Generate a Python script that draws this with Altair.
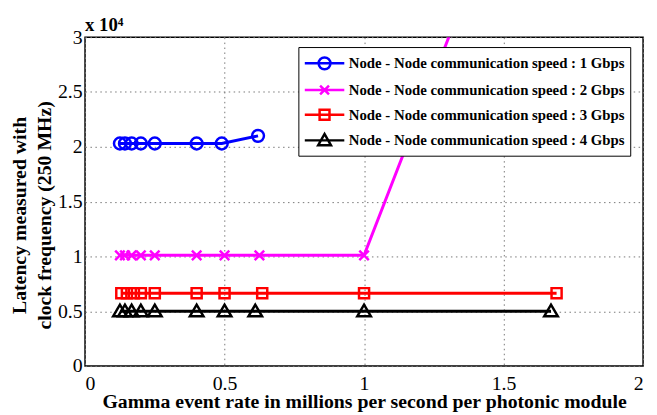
import altair as alt
import pandas as pd

series = [
    "Node - Node communication speed : 1 Gbps",
    "Node - Node communication speed : 2 Gbps",
    "Node - Node communication speed : 3 Gbps",
    "Node - Node communication speed : 4 Gbps",
]
colors = ["#0000ff", "#ff00ff", "#ff0000", "#000000"]

x_1g = [0.125, 0.143, 0.167, 0.2, 0.25, 0.4, 0.49, 0.62]
y_1g = [20300, 20300, 20300, 20300, 20300, 20300, 20300, 21000]
x_2g = [0.125, 0.143, 0.167, 0.2, 0.25, 0.4, 0.5, 0.625, 1.0, 1.67]
y_2g = [10100, 10100, 10100, 10100, 10100, 10100, 10100, 10100, 10100, 54000]
x_3g = [0.13, 0.15, 0.175, 0.2, 0.25, 0.4, 0.5, 0.635, 1.0, 1.69]
y_3g = [6650, 6650, 6650, 6650, 6650, 6650, 6650, 6650, 6650, 6650]
x_4g = [0.125, 0.143, 0.167, 0.2, 0.25, 0.4, 0.5, 0.61, 1.0, 1.67]
y_4g = [5000, 5000, 5000, 5000, 5000, 5000, 5000, 5000, 5000, 5000]

x_ticks = [0, 0.5, 1, 1.5, 2]
y_ticks = [0, 5000, 10000, 15000, 20000, 25000, 30000]

rows = []
for s, xs, ys in zip(series, [x_1g, x_2g, x_3g, x_4g], [y_1g, y_2g, y_3g, y_4g]):
    for i, (xv, yv) in enumerate(zip(xs, ys)):
        rows.append({"series": s, "x": xv, "y": yv, "order": i})
df = pd.DataFrame(rows)

FONT = "Liberation Serif"

# marker shapes for plot
plot_shapes = [
    "M1,0A1,1 0 1,1 -1,0A1,1 0 1,1 1,0Z",
    "M-0.8,-0.8L0.8,0.8M-0.8,0.8L0.8,-0.8",
    "M-0.85,-0.85H0.85V0.85H-0.85Z",
    "M-1.15,0.85L0,-1.1L1.15,0.85Z",
]
# legend symbols: line + marker
legend_shapes = [
    "M-2,0L2,0M0.6,0A0.6,0.6 0 1,1 -0.6,0A0.6,0.6 0 1,1 0.6,0Z",
    "M-2,0L2,0M-0.45,-0.45L0.45,0.45M-0.45,0.45L0.45,-0.45",
    "M-2,0L2,0M-0.5,-0.5H0.5V0.5H-0.5Z",
    "M-2,0L2,0M-0.65,0.5L0,-0.65L0.65,0.5Z",
]

x_enc = alt.X("x:Q", scale=alt.Scale(domain=[0, 2], nice=False),
              axis=alt.Axis(values=x_ticks, format="~g",
                            title="Gamma event rate in millions per second per photonic module"))
y_enc = alt.Y("y:Q", scale=alt.Scale(domain=[0, 30000], nice=False),
              axis=alt.Axis(values=y_ticks, labelExpr="format(datum.value/10000, '~g')",
                            title=["Latency measured with", "clock frequency (250 MHz)"]))

color_nolegend = alt.Color("series:N", scale=alt.Scale(domain=series, range=colors), legend=None)

lines = alt.Chart(df).mark_line(strokeWidth=3, clip=True).encode(
    x=x_enc, y=y_enc, color=color_nolegend, order="order:Q"
)
points = alt.Chart(df).mark_point(filled=False, strokeWidth=2.5, size=144, clip=True, opacity=1).encode(
    x=x_enc, y=y_enc, color=color_nolegend,
    shape=alt.Shape("series:N", scale=alt.Scale(domain=series, range=plot_shapes), legend=None),
)

def make_legend():
    return alt.Legend(orient="none", legendX=216, legendY=10, title=None,
                      strokeColor="black", fillColor="white", padding=5,
                      symbolSize=400, symbolStrokeWidth=2.5, symbolOffset=10,
                      labelFont=FONT, labelFontSize=15, labelFontWeight="bold",
                      labelColor="black", labelOffset=13, labelLimit=400,
                      rowPadding=4)

legend_layer = alt.Chart(df).transform_filter("datum.x < -100").mark_point(
    filled=False, strokeWidth=2.5, opacity=1
).encode(
    x=x_enc, y=y_enc,
    color=alt.Color("series:N", scale=alt.Scale(domain=series, range=colors), title=None,
                    legend=make_legend()),
    shape=alt.Shape("series:N", scale=alt.Scale(domain=series, range=legend_shapes), title=None,
                    legend=make_legend()),
)

chart = alt.layer(lines, points, legend_layer).resolve_scale(
    color="independent", shape="independent"
).properties(
    width=565, height=333,
    autosize=alt.AutoSizeParams(type="none"),
    padding={"left": 78, "top": 27, "right": 6, "bottom": 47},
    background="white",
    title=alt.TitleParams("x 10⁴", anchor="start", font=FONT, fontSize=19, fontWeight="bold",
                          color="black", offset=-8, frame="group"),
).configure_view(
    stroke="black", strokeWidth=1.5
).configure_axis(
    labelFont=FONT, labelFontSize=20, labelColor="black", titleFont=FONT, titleFontSize=20,
    titleFontWeight="bold", titleColor="black", ticks=False, domain=False,
    grid=True, gridColor="#777777", gridDash=[1.5, 3.5], gridWidth=1,
).configure_axisY(
    titlePadding=3, titleLineHeight=25, labelPadding=3, titleY=180,
).configure_axisX(
    labelPadding=8, titleBaseline="alphabetic", titleY=42,
)

chart.save("out.html", embed_options={"renderer": "svg", "actions": False})
